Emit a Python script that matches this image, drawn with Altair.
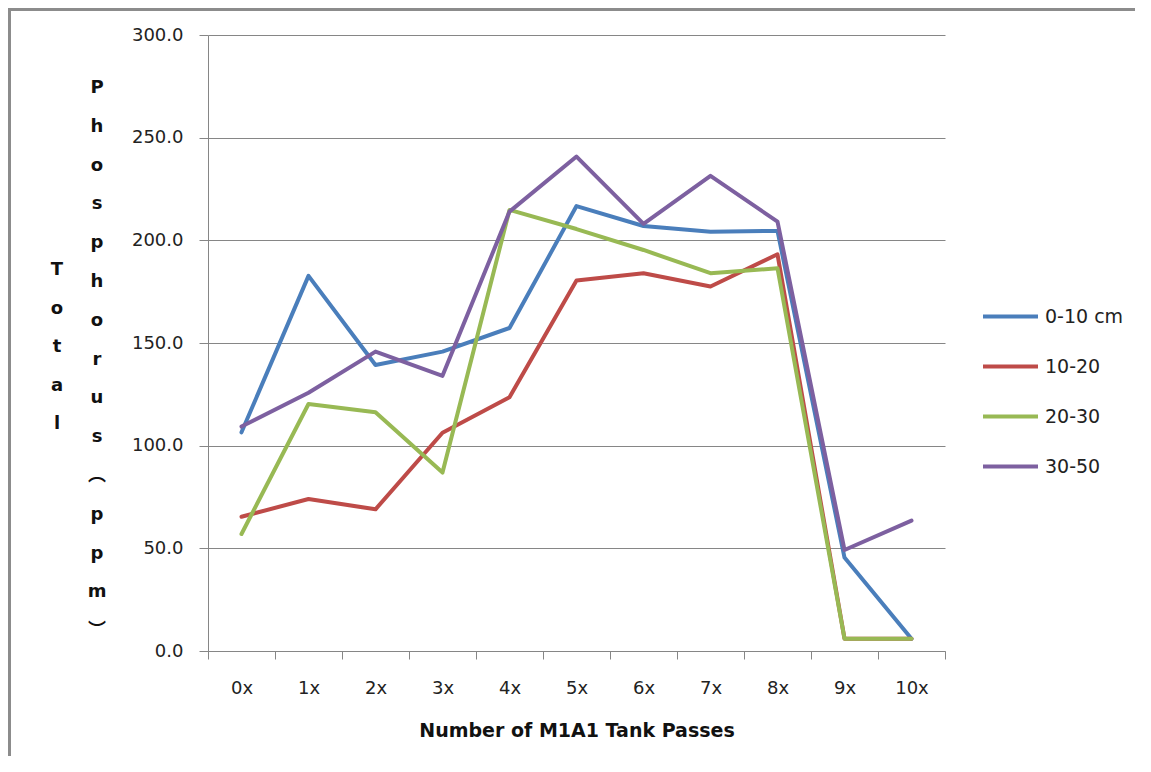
import altair as alt
import pandas as pd

passes = ["0x", "1x", "2x", "3x", "4x", "5x", "6x", "7x", "8x", "9x", "10x"]
series_names = ["0-10 cm", "10-20", "20-30", "30-50"]
depth_0_10 = [106.5, 182.7, 139.3, 145.8, 157.3, 216.7, 207.0, 204.2, 204.6, 45.5, 6.0]
depth_10_20 = [65.4, 74.0, 69.0, 106.3, 123.6, 180.4, 184.0, 177.5, 193.2, 6.0, 6.0]
depth_20_30 = [57.0, 120.3, 116.3, 86.9, 214.8, 205.5, 195.3, 184.0, 186.4, 6.0, 6.0]
depth_30_50 = [109.3, 125.8, 145.8, 134.0, 214.0, 240.8, 208.0, 231.4, 209.1, 49.2, 63.5]
colors = ["#4A7EBB", "#BE4B48", "#98B954", "#7D60A0"]

title_col1 = ["T", "o", "t", "a", "l"]
title_col2 = ["P", "h", "o", "s", "p", "h", "o", "r", "u", "s", "\ufe35", "p", "p", "m", "\ufe36"]

rows = []
for name, vals in zip(series_names, [depth_0_10, depth_10_20, depth_20_30, depth_30_50]):
    for p, v in zip(passes, vals):
        rows.append({"Passes": p, "Depth": name, "P": v})
df = pd.DataFrame(rows)

W, H = 737, 616
FONT = "DejaVu Sans, Noto Sans CJK SC"

lines = alt.Chart(df).mark_line(strokeWidth=4, strokeCap="round", strokeJoin="round").encode(
    x=alt.X("Passes:N", sort=passes, bandPosition=0.5,
            scale=alt.Scale(type="band", paddingInner=0, paddingOuter=0),
            axis=alt.Axis(title="Number of M1A1 Tank Passes", labelAngle=0, tickBand="extent",
                          grid=False, tickSize=8, labelPadding=20, titlePadding=24,
                          domainColor="#868686", tickColor="#868686")),
    y=alt.Y("P:Q", scale=alt.Scale(domain=[0, 300], nice=False),
            axis=alt.Axis(title=None, format=".1f", values=[0, 50, 100, 150, 200, 250, 300],
                          tickSize=9, labelPadding=16, gridColor="#868686",
                          domainColor="#868686", tickColor="#868686")),
    color=alt.Color("Depth:N", sort=series_names,
                    scale=alt.Scale(domain=series_names, range=colors),
                    legend=alt.Legend(title=None, orient="none", legendX=773, legendY=252,
                                      symbolType="stroke", symbolSize=3025, symbolStrokeWidth=4,
                                      labelFontSize=19, labelFont=FONT, labelColor="#222222",
                                      rowPadding=10, labelOffset=5)),
    detail="Depth:N",
)

anno = pd.DataFrame({"a": [0]})
col1 = alt.Chart(anno).mark_text(font=FONT, fontSize=18, fontWeight="bold", lineHeight=38.5,
                                 baseline="middle", align="center", color="#111111").encode(
    x=alt.value(57 - 208), y=alt.value(270 - 35), text=alt.value(title_col1))
col2 = alt.Chart(anno).mark_text(font=FONT, fontSize=18, fontWeight="bold", lineHeight=38.8,
                                 baseline="middle", align="center", color="#111111").encode(
    x=alt.value(97 - 208), y=alt.value(88 - 35), text=alt.value(title_col2))

border_left = alt.Chart(anno).mark_rule(color="#8c8c8c", strokeWidth=3).encode(
    x=alt.value(-198.5), y=alt.value(-27), y2=alt.value(H + 110))
border_top = alt.Chart(anno).mark_rule(color="#8c8c8c", strokeWidth=3).encode(
    x=alt.value(-200), x2=alt.value(W + 200), y=alt.value(-25.5))

chart = alt.layer(lines, col1, col2, border_left, border_top).properties(
    width=W, height=H,
    autosize=alt.AutoSizeParams(type="none"),
    padding={"left": 200, "top": 27, "right": 190, "bottom": 105},
    background="white",
).configure_view(stroke=None).configure_axis(
    labelFont=FONT, labelFontSize=18, labelColor="#222222",
    titleFont=FONT, titleFontSize=19, titleFontWeight="bold", titleColor="#111111",
)

chart.save("out.html", embed_options={"renderer": "svg", "actions": False})
